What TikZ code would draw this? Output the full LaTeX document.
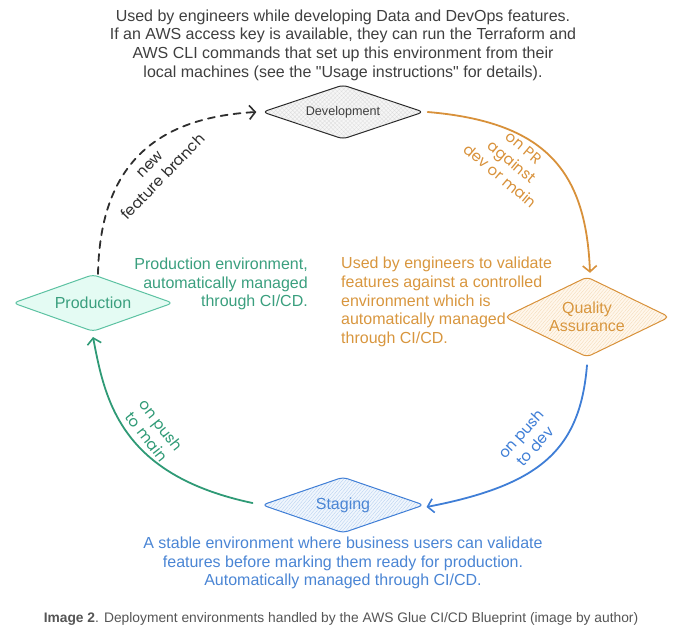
\documentclass[tikz,border=0pt]{standalone}
\usepackage{fontspec}
\setmainfont{Liberation Sans}[Ligatures=TeXOff]
\newfontfamily\hand{Poppins}
\usetikzlibrary{shapes.geometric,arrows.meta,patterns.meta}

\definecolor{txtgray}{HTML}{3F3F3F}
\definecolor{devline}{HTML}{2E2E2E}
\definecolor{devfill}{HTML}{F6F6F6}
\definecolor{devhatch}{HTML}{DCDCDC}
\definecolor{tealtxt}{HTML}{3A9F7E}
\definecolor{tealline}{HTML}{2F9A76}
\definecolor{tealnode}{HTML}{5CC2A2}
\definecolor{tealfill}{HTML}{E4FBF3}
\definecolor{orgtxt}{HTML}{D8963E}
\definecolor{orgline}{HTML}{D8913A}
\definecolor{orgfill}{HTML}{FFF7EC}
\definecolor{orghatch}{HTML}{F4DAB6}
\definecolor{bluetxt}{HTML}{4A85D4}
\definecolor{blueline}{HTML}{3F7ED6}
\definecolor{bluefill}{HTML}{F0F6FD}
\definecolor{bluehatch}{HTML}{B4CFF0}
\definecolor{capgray}{HTML}{555555}

\begin{document}
\begin{tikzpicture}[x=1pt,y=-1pt,
  env/.style={diamond, inner sep=0pt, aspect=3, rounded corners=5pt, line width=1pt,
    align=center, font=\fontsize{16}{18}\selectfont},
  desc/.style={font=\fontsize{16}{18.6}\selectfont, inner sep=0pt},
  hw/.style={font=\hand\fontsize{15}{18.5}\selectfont, align=center, inner sep=0pt},
  arr/.style={-{Straight Barb[length=6pt,width=14pt,line width=1.6pt]}, line width=1.8pt, line cap=round}
]
\useasboundingbox (0,0) rectangle (680,628);

% environments
\node[env, minimum width=161pt, minimum height=54pt, draw=devline, text=txtgray,
  font=\fontsize{12.6}{15}\selectfont,
  preaction={fill=devfill},
  pattern={Hatch[angle=45,distance=3pt,line width=0.3pt]}, pattern color=devhatch]
  (dev) at (343,112) {Development};

\node[env, minimum width=160pt, minimum height=57pt, draw=tealnode, text=tealtxt,
  fill=tealfill] (prod) at (93,303) {Production};

\node[env, minimum width=160pt, minimum height=80pt, draw=orgline, text=orgtxt,
  preaction={fill=orgfill},
  pattern={Lines[angle=50,distance=2.5pt,line width=0.35pt]}, pattern color=orghatch]
  (qa) at (587,317) {Quality\\Assurance};

\node[env, minimum width=162pt, minimum height=56pt, draw=blueline, text=bluetxt,
  preaction={fill=bluefill},
  pattern={Lines[angle=50,distance=2.5pt,line width=0.35pt]}, pattern color=bluehatch]
  (stg) at (343,505) {Staging};

% descriptions
\node[desc, align=center, text=txtgray] (devdesc) at (343,45)
  {Used by engineers while developing Data and DevOps features.\\
   If an AWS access key is available, they can run the Terraform and\\
   AWS CLI commands that set up this environment from their\\
   local machines (see the "Usage instructions" for details).};

\node[desc, align=right, anchor=east, text=tealtxt] (proddesc) at (308,284)
  {Production environment,\\ automatically managed\\ through CI/CD.};

\node[desc, align=left, anchor=west, text=orgtxt] (qadesc) at (341,302)
  {Used by engineers to validate\\ features against a controlled\\ environment which is\\ automatically managed\\ through CI/CD.};

\node[desc, align=center, text=bluetxt] (stgdesc) at (343,563)
  {A stable environment where business users can validate\\
   features before marking them ready for production.\\
   Automatically managed through CI/CD.};

\node[inner sep=0pt, text=capgray, font=\fontsize{13.8}{15}\selectfont] (caption) at (341,619)
  {\textbf{Image 2}. Deployment environments handled by the AWS Glue CI/CD Blueprint (image by author)};

% connectors
\draw[arr, orgline] ([xshift=4pt]dev.east) .. controls (545,122) and (586,170) .. ([xshift=3pt,yshift=4pt]qa.north);
\draw[arr, blueline] ([yshift=-8pt]qa.south) .. controls (580,450) and (540,485) .. ([xshift=2pt,yshift=-2pt]stg.east);
\draw[arr, tealline] ([xshift=-9pt,yshift=2pt]stg.west) .. controls (120,475) and (105,400) .. ([yshift=-5pt]prod.south);
\draw[arr, devline, dash pattern=on 7pt off 6pt] ([xshift=5pt]prod.north) .. controls (100,170) and (150,118) .. ([xshift=-6pt]dev.west);

% connector labels
\node[hw, text=devline, rotate=46] (lbl1) at (157,171) {new\\feature branch};
\node[hw, text=orgline, rotate=-40] (lbl2) at (512,162) {on PR\\against\\dev or main};
\node[hw, text=blueline, rotate=48] (lbl3) at (528,440) {on push\\to dev};
\node[hw, text=tealline, rotate=-52] (lbl4) at (154,431) {on push\\to main};
\end{tikzpicture}
\end{document}
